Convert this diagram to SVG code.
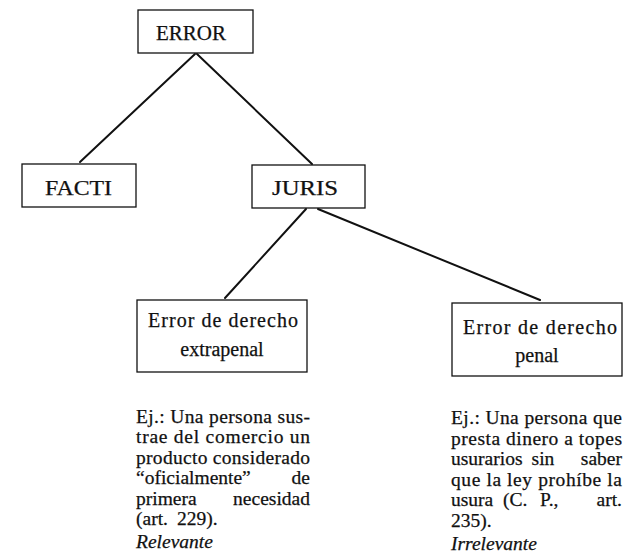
<svg xmlns="http://www.w3.org/2000/svg" width="625" height="558" viewBox="0 0 625 558">
  <style>
    .box { fill: #ffffff; stroke: #111111; stroke-width: 1.3; }
    .edge { stroke: #111111; stroke-width: 2; fill: none; stroke-linecap: round; }
    .lbl { font-family: "Liberation Serif", "Times New Roman", serif; fill: #111111; stroke: #111111; stroke-width: 0.25; }
    .head { font-size: 20px; }
    .boxtxt { font-size: 20px; }
    .para { font-size: 19.5px; }
    .it { font-style: italic; font-size: 19.5px; }
  </style>
  <rect width="625" height="558" fill="#ffffff"/>

  <!-- connectors -->
  <g id="connectors">
    <line class="edge" x1="195" y1="54" x2="80" y2="162"/>
    <line class="edge" x1="197" y1="54" x2="312" y2="164"/>
    <line class="edge" x1="306" y1="209" x2="225" y2="298"/>
    <line class="edge" x1="318" y1="209" x2="540" y2="300"/>
  </g>

  <g id="node-error">
    <rect class="box" x="138" y="10" width="115" height="43"/>
    <text class="lbl head" x="156" y="40" textLength="70" lengthAdjust="spacingAndGlyphs">ERROR</text>
  </g>

  <g id="node-facti">
    <rect class="box" x="22" y="164" width="114" height="43"/>
    <text class="lbl head" x="45" y="195" textLength="67" lengthAdjust="spacingAndGlyphs">FACTI</text>
  </g>

  <g id="node-juris">
    <rect class="box" x="252" y="165" width="113" height="43"/>
    <text class="lbl head" x="272" y="195" textLength="66" lengthAdjust="spacingAndGlyphs">JURIS</text>
  </g>

  <g id="node-extrapenal">
    <rect class="box" x="137" y="300" width="170" height="72"/>
    <text class="lbl boxtxt" x="148" y="327" textLength="150" lengthAdjust="spacing">Error de derecho</text>
    <text class="lbl boxtxt" x="222" y="356" text-anchor="middle">extrapenal</text>
  </g>

  <g id="node-penal">
    <rect class="box" x="452" y="303" width="170" height="73"/>
    <text class="lbl boxtxt" x="463" y="334" textLength="154" lengthAdjust="spacing">Error de derecho</text>
    <text class="lbl boxtxt" x="537" y="362" text-anchor="middle">penal</text>
  </g>

  <!-- example under the extrapenal case -->
  <g id="note-extrapenal" class="lbl para">
    <text x="136" y="423" textLength="174" lengthAdjust="spacing">Ej.: Una persona sus-</text>
    <text x="136" y="443" textLength="174" lengthAdjust="spacing">trae del comercio un</text>
    <text x="136" y="464" textLength="174" lengthAdjust="spacing">producto considerado</text>
    <text x="136" y="484">“oficialmente”</text>
    <text x="310" y="484" text-anchor="end">de</text>
    <text x="136" y="505">primera</text>
    <text x="310" y="505" text-anchor="end">necesidad</text>
    <text x="136" y="525">(art.</text>
    <text x="177" y="525">229).</text>
    <text class="it" x="136" y="548">Relevante</text>
  </g>

  <!-- example under the penal case -->
  <g id="note-penal" class="lbl para">
    <text x="451" y="424" textLength="171" lengthAdjust="spacing">Ej.: Una persona que</text>
    <text x="451" y="445" textLength="171" lengthAdjust="spacing">presta dinero a topes</text>
    <text x="451" y="465">usurarios</text>
    <text x="543" y="465" text-anchor="middle">sin</text>
    <text x="622" y="465" text-anchor="end">saber</text>
    <text x="451" y="486" textLength="171" lengthAdjust="spacing">que la ley prohíbe la</text>
    <text x="451" y="506">usura</text>
    <text x="503" y="506">(C.</text>
    <text x="540" y="506">P.,</text>
    <text x="622" y="506" text-anchor="end">art.</text>
    <text x="451" y="527">235).</text>
    <text class="it" x="451" y="550">Irrelevante</text>
  </g>
</svg>
